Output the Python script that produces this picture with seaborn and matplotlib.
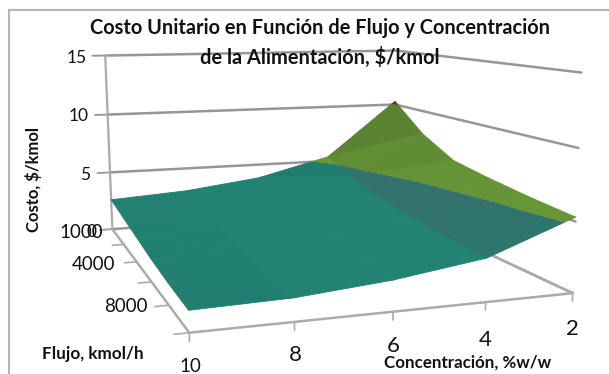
import numpy as np
import matplotlib
matplotlib.use("Agg")
import matplotlib.pyplot as plt
from matplotlib.lines import Line2D
from mpl_toolkits.mplot3d.art3d import Poly3DCollection
import seaborn as sns

# Cost surface: rows follow the feed flow, columns the feed concentration
concentration = [10, 8, 6, 4, 2]
flow = [1000, 2000, 4000, 6000, 8000, 10000]
cost = [
    [2.6, 3.0, 3.8, 5.4, 10.3],
    [2.3, 2.7, 3.3, 4.5, 8.0],
    [2.0, 2.3, 2.8, 3.8, 6.5],
    [1.7, 2.0, 2.5, 3.4, 6.0],
    [1.5, 1.75, 2.25, 3.2, 5.6],
    [1.4, 1.55, 2.1, 3.0, 5.3],
]
cost_levels = [0, 5, 10, 15]

W, H = 609, 374

sns.set_theme(style="white")
plt.rcParams["font.family"] = ["Lato", "DejaVu Sans"]

band_colors = ["#207b6d", "#6ea03c", "#8c2f4a"]
steep_teal = np.array([70, 105, 110]) / 255

# Camera calibration: grid position (concentration step, flow step, cost) to canvas pixel
cam_world = np.array([
    [0, 0, 0], [4, 0, 0], [0, 5, 0], [4, 5, 0],
    [0, 0, 15], [4, 0, 15], [4, 5, 15],
    [1, 5, 0], [2, 5, 0], [3, 5, 0],
    [0, 2, 0], [0, 4, 0], [4, 0, 10], [0, 0, 10], [4, 5, 10],
], float)
cam_pixel = np.array([
    [112, 230], [395, 208], [190, 332], [572, 294],
    [105, 55], [395, 52], [582, 72],
    [295, 322], [393, 312], [485, 304],
    [136, 262], [169, 304], [395, 104], [108, 115], [578, 147],
], float)


def solve_camera(world, pixel):
    rows, rhs = [], []
    for (X, Y, Z), (u, v) in zip(world, pixel):
        v = H - v
        rows.append([X, Y, Z, 1, 0, 0, 0, 0, -u * X, -u * Y, -u * Z])
        rows.append([0, 0, 0, 0, X, Y, Z, 1, -v * X, -v * Y, -v * Z])
        rhs += [u, v]
    p = np.linalg.lstsq(np.array(rows), np.array(rhs), rcond=None)[0]
    return np.array([
        p[:4],
        p[4:8],
        [0, 0, 0, -1.0],
        [p[8], p[9], p[10], 1.0],
    ])


def clip_band(tri, low, high):
    """Keep the part of a triangle lying between two cost levels."""
    def clip(poly, level, keep_above):
        out = []
        for a, b in zip(poly, poly[1:] + poly[:1]):
            ina = a[2] >= level if keep_above else a[2] <= level
            inb = b[2] >= level if keep_above else b[2] <= level
            if ina:
                out.append(a)
            if ina != inb:
                t = (level - a[2]) / (b[2] - a[2])
                out.append(tuple(a[i] + t * (b[i] - a[i]) for i in range(3)))
        return out
    poly = clip(list(tri), low, True)
    return clip(poly, high, False) if poly else []


def facet_shade(tri):
    a, b, c = [np.array(p) * [1, 1, 0.45] for p in tri]
    n = np.cross(b - a, c - a)
    n = n / np.linalg.norm(n) * np.sign(n[2])
    light = np.array([-0.35, 0.1, 0.93])
    return 0.07 + float(n @ light)


def shaded(color, factor, band_index):
    rgb = np.array(matplotlib.colors.to_rgb(color))
    if band_index == 0:
        if factor < 1:
            mix = min((1 - factor) * 12, 0.5)
            rgb = rgb * (1 - mix) + steep_teal * mix
        else:
            rgb = rgb * factor
    else:
        rgb = rgb * (0.45 + 0.5 * factor)
    return tuple(np.clip(rgb, 0, 1))


fig = plt.figure(figsize=(W / 100, H / 100), dpi=100, facecolor="white")
ax = fig.add_axes([0, 0, 1, 1], projection="3d")
ax.set_axis_off()
ax.patch.set_alpha(0)
ax.computed_zorder = False
ax.set_proj_type("ortho")
camera = solve_camera(cam_world, cam_pixel)
ax.get_proj = lambda: camera
ax.apply_aspect = lambda position=None: None
ax.viewLim.intervalx = (0, W)
ax.viewLim.intervaly = (0, H)

grid_gray = "#969696"
floor_gray = "#ababab"
nx, ny = len(concentration) - 1, len(flow) - 1

# Gridlines along the two walls
for level in cost_levels:
    ax.plot([0, nx], [0, 0], [level, level], color=grid_gray, lw=1.8, zorder=1)
    ax.plot([nx, nx], [0, ny], [level, level], color=grid_gray, lw=1.8, zorder=1)
    ax.plot([-0.16, 0], [0, 0], [level, level], color=grid_gray, lw=1.3, zorder=1)

# Cost axis and floor outline
ax.plot([0, 0], [0, 0], [0, 15], color=floor_gray, lw=1.6, zorder=1)
ax.plot([0, 0, nx, nx], [0, ny, ny, 0], [0, 0, 0, 0], color=floor_gray, lw=1.8, zorder=1)
for i in range(nx + 1):
    ax.plot([i, i], [ny, ny], [0, -0.55], color=floor_gray, lw=1.2, zorder=1)
for j in range(ny + 1):
    ax.plot([0, -0.14], [j, j], [0, 0], color=floor_gray, lw=1.2, zorder=1)

# Surface, cut into cost bands and shaded facet by facet
polys, colors = [], []
for j in range(ny):
    for i in range(nx):
        p00 = (i, j, cost[j][i])
        p10 = (i + 1, j, cost[j][i + 1])
        p01 = (i, j + 1, cost[j + 1][i])
        p11 = (i + 1, j + 1, cost[j + 1][i + 1])
        for tri in ((p00, p10, p11), (p00, p11, p01)):
            shade = facet_shade(tri)
            for k, band in enumerate(band_colors):
                piece = clip_band(tri, cost_levels[k], cost_levels[k + 1])
                if len(piece) >= 3:
                    polys.append(piece)
                    colors.append(shaded(band, shade, k))
surface = Poly3DCollection(polys, facecolors=colors, edgecolors=colors, linewidths=0.6, zorder=2)
ax.add_collection3d(surface, autolim=False)


def label(x, y, text, **kw):
    kw.setdefault("ha", "center")
    kw.setdefault("va", "center")
    fig.text(x / W, 1 - y / H, text, color=kw.pop("color", "#111111"), **kw)


# Panel outline
frame = dict(color="#b4b4b4", lw=1.5, transform=fig.transFigure, zorder=0)
fig.add_artist(Line2D([9 / W, 1], [1 - 10 / H] * 2, **frame))
fig.add_artist(Line2D([9 / W] * 2, [0, 1 - 10 / H], **frame))

label(319.5, 28, "Costo Unitario en Función de Flujo y Concentración", fontsize=14.4, fontweight="bold")
label(320, 57, "de la Alimentación, $/kmol", fontsize=14.4, fontweight="bold")

for level, (x, y) in zip(cost_levels[::-1], [(77, 58), (79, 116), (85, 175), (91, 232)]):
    label(x, y, str(level), fontsize=12.5)
for value, (x, y) in zip([1000, 4000, 8000], [(81, 232), (94, 265), (126, 306)]):
    label(x, y, str(value), fontsize=13.5)
for value, (x, y) in zip(concentration, [(190, 366), (295, 355), (393, 346), (485, 340), (572, 329)]):
    label(x, y, str(value), fontsize=16 if value != 10 else 13.5)

label(33, 179.5, "Costo, $/kmol", fontsize=12, fontweight="bold", rotation=90)
label(93, 354, "Flujo, kmol/h", fontsize=12.3, fontweight="bold")
label(468, 363, "Concentración, %w/w", fontsize=12.2, fontweight="bold")

fig.savefig("out.png", dpi=100)
